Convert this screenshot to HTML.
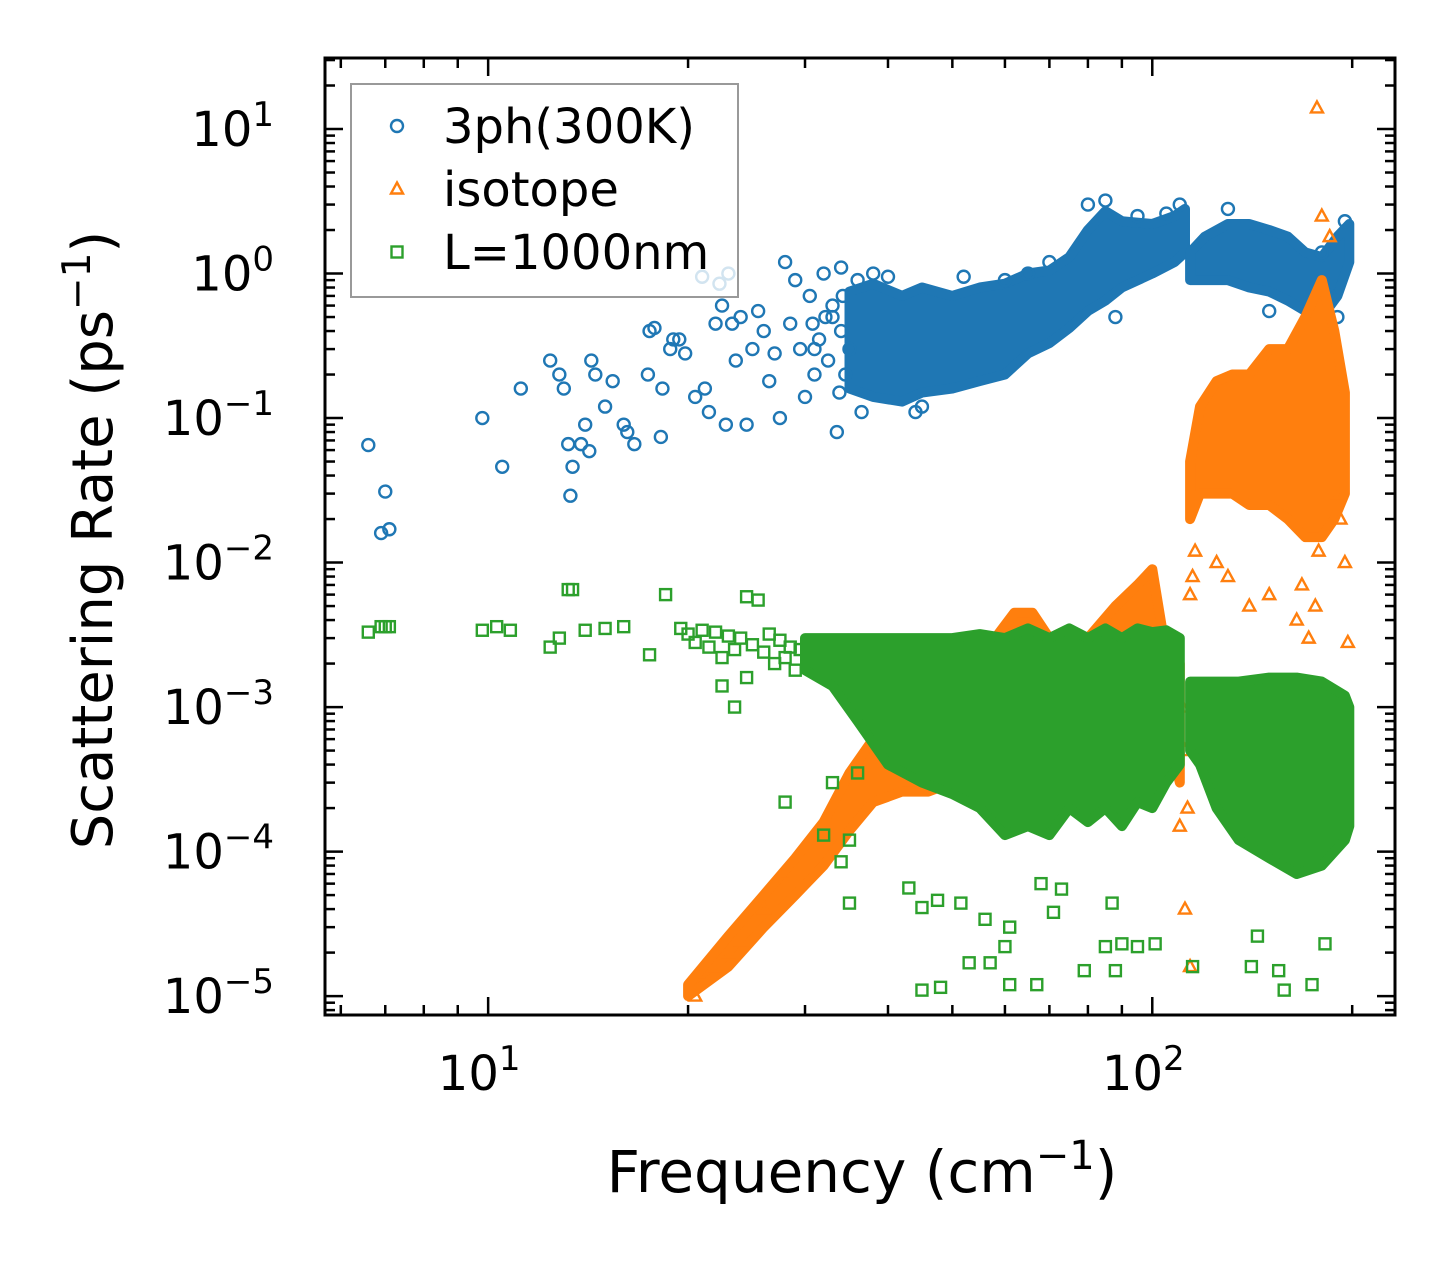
<!DOCTYPE html>
<html><head><meta charset="utf-8"><style>
html,body{margin:0;padding:0;background:#fff;}
svg{display:block;font-family:"DejaVu Sans","Liberation Sans",sans-serif;}
</style></head><body>
<svg id="chart" width="1455" height="1265" viewBox="0 0 1455 1265" xmlns="http://www.w3.org/2000/svg">
<rect width="1455" height="1265" fill="#fff"/>
<defs><clipPath id="clip"><rect x="325" y="58" width="1070" height="957"/></clipPath></defs>
<g id="plot" clip-path="url(#clip)"></g>
<g id="axes"></g>
<g id="legend"></g>
</svg>
<script>
// ---- data ----
const blueBand = [[35,0.16,0.75],[38,0.14,0.85],[42,0.13,0.7],[45,0.15,0.8],[50,0.16,0.7],[55,0.18,0.8],[60,0.2,0.85],[65,0.28,1.0],[70,0.33,1.05],[75,0.42,1.3],[80,0.55,2.0],[85,0.65,2.7],[90,0.8,2.3],[100,1.0,2.2],[108,1.2,2.5],[112,1.4,2.8]];
const blueBand2 = [[114,0.9,1.4],[120,0.9,1.8],[130,0.9,2.2],[140,0.8,2.2],[150,0.75,2.0],[160,0.65,1.8],[170,0.55,1.4],[180,0.5,1.3],[190,0.7,1.8],[198,1.2,2.2]];
const blueFreq = [6.6,6.9,7.0,7.1,9.8,10.5,11.2,12.4,12.8,13.0,13.2,13.3,13.4,13.8,14.0,14.3,14.5,14.2,15.0,15.4,16.0,16.2,16.6,17.4,17.5,17.8,18.2,18.3,18.8,19.0,19.4,19.8,20.5,21,21.2,21.5,22,22.3,22.5,22.8,23,23.3,23.6,24,24.5,25,25.5,26,26.5,27,27.5,28,28.5,29,29.5,30,30.5,31,32,33,33.5,34,35,36,36.5,38,40,45,44,52,60,65,70,80,85,88,95,105,110,130,150,170,175,180,185,195,190,31.5,32.5,33,34,34.5,33.8,32.2,31,30.8,34.2];
const blueRate = [0.065,0.016,0.031,0.017,0.1,0.046,0.16,0.25,0.2,0.16,0.066,0.029,0.046,0.066,0.09,0.25,0.2,0.059,0.12,0.18,0.09,0.08,0.066,0.2,0.4,0.42,0.074,0.16,0.3,0.35,0.35,0.28,0.14,0.95,0.16,0.11,0.45,0.85,0.6,0.09,1.0,0.45,0.25,0.5,0.09,0.3,0.55,0.4,0.18,0.28,0.1,1.2,0.45,0.9,0.3,0.14,0.7,0.2,1.0,0.5,0.08,1.1,0.3,0.9,0.11,1.0,0.95,0.12,0.11,0.95,0.9,1.0,1.2,3.0,3.2,0.5,2.5,2.6,3.0,2.8,0.55,0.45,0.35,1.4,0.7,2.3,0.5,0.35,0.25,0.6,0.4,0.2,0.15,0.5,0.3,0.45,0.7];
const orangeBand = [[20,1.0e-5,1.2e-5],[23,1.6e-5,2.6e-5],[26,3e-5,5e-5],[29,5e-5,9e-5],[32,8e-5,1.6e-4],[35,1.4e-4,3.5e-4],[38,2.2e-4,6e-4],[42,2.6e-4,9e-4],[46,2.6e-4,1.2e-3],[50,3e-4,1.5e-3],[55,3.5e-4,2e-3],[58,4e-4,3e-3],[62,5e-4,4.5e-3],[66,5e-4,4.5e-3],[70,6e-4,3e-3],[80,5e-4,3e-3],[88,1e-3,5e-3],[95,1.5e-3,7e-3],[100,1.5e-3,9e-3],[104,1e-3,3e-3],[110,3e-4,2e-3]];
const orangeBand2 = [[114,2e-2,5e-2],[118,3e-2,0.12],[125,3e-2,0.18],[132,3e-2,0.2],[140,2.5e-2,0.2],[150,2.5e-2,0.3],[160,2e-2,0.3],[170,1.5e-2,0.5],[180,1.5e-2,0.9],[188,2e-2,0.4],[195,3e-2,0.15]];
const orangeFreq = [20.5,21,22,23,24,26,28,111,112,113,114,115,116,125,130,140,150,165,168,172,176,178,180,185,190,192,195,197,177,114,112,110];
const orangeRate = [1.0e-5,1.4e-5,1.6e-5,2e-5,2.4e-5,4e-5,7e-5,1e-3,5e-4,2e-4,6e-3,8e-3,1.2e-2,1e-2,8e-3,5e-3,6e-3,4e-3,7e-3,3e-3,5e-3,1.2e-2,2.5,1.8,0.03,0.02,0.01,2.8e-3,14,1.6e-5,4e-5,1.5e-4];
const greenBand = [[30,1.8e-3,3e-3],[33,1.4e-3,3e-3],[36,8e-4,3e-3],[40,4e-4,3e-3],[45,3e-4,3e-3],[50,2.5e-4,3e-3],[55,2e-4,3.2e-3],[60,1.3e-4,3e-3],[65,1.5e-4,3.5e-3],[70,1.3e-4,3e-3],[75,2e-4,3.5e-3],[80,1.6e-4,3e-3],[85,2e-4,3.5e-3],[90,1.5e-4,3e-3],[95,2.2e-4,3.5e-3],[100,2e-4,3.3e-3],[105,3e-4,3.4e-3],[110,4e-4,3e-3]];
const greenBand2 = [[114,5e-4,1.5e-3],[118,4e-4,1.5e-3],[125,2e-4,1.5e-3],[135,1.2e-4,1.5e-3],[150,9e-5,1.6e-3],[165,7e-5,1.6e-3],[180,8e-5,1.5e-3],[195,1.2e-4,1.2e-3],[198,1.5e-4,1.0e-3]];
const greenFreq = [6.6,6.9,7.0,7.1,9.8,10.3,10.8,12.4,12.8,13.2,13.4,14,15,16,17.5,18.5,19.5,20,20.5,21,21.5,22,22.5,23,23.5,24,24.5,25,25.5,26,26.5,27,27.5,28,28.5,29,29.5,22.5,23.5,24.5,28,35,45,53,61,60,79,85,90,45,47.5,51.5,56,61,71,87,43,68,73,158,174,141,155,115,182,144,88,101,95,57,67,48,32,33,34,35,36];
const greenRate = [3.3e-3,3.6e-3,3.6e-3,3.6e-3,3.4e-3,3.6e-3,3.4e-3,2.6e-3,3e-3,6.5e-3,6.5e-3,3.4e-3,3.5e-3,3.6e-3,2.3e-3,6e-3,3.5e-3,3.2e-3,2.8e-3,3.4e-3,2.6e-3,3.3e-3,2.2e-3,3.1e-3,2.5e-3,3.0e-3,5.8e-3,2.7e-3,5.5e-3,2.4e-3,3.2e-3,2.0e-3,2.9e-3,2.2e-3,2.6e-3,1.8e-3,2.5e-3,1.4e-3,1.0e-3,1.6e-3,2.2e-4,4.4e-5,1.1e-5,1.7e-5,1.2e-5,2.2e-5,1.5e-5,2.2e-5,2.3e-5,4.1e-5,4.6e-5,4.4e-5,3.4e-5,3e-5,3.8e-5,4.4e-5,5.6e-5,6e-5,5.5e-5,1.1e-5,1.2e-5,1.6e-5,1.5e-5,1.6e-5,2.3e-5,2.6e-5,1.5e-5,2.3e-5,2.2e-5,1.7e-5,1.2e-5,1.15e-5,1.3e-4,3e-4,8.5e-5,1.2e-4,3.5e-4];
const xTickVals = [10,100];
const xTickText = ["1","2"];
const yTickVals = [10,1,0.1,0.01,0.001,0.0001,0.00001];
const yTickText = ["1","0","\u22121","\u22122","\u22123","\u22124","\u22125"];

// ---- axis functions ----
const X0=325,X1=1395,Y0=58,Y1=1015;
const xmin=Math.log10(5.68),xmax=Math.log10(232),ymin=Math.log10(7.4e-6),ymax=Math.log10(31);
const sx=v=>X0+(Math.log10(v)-xmin)/(xmax-xmin)*(X1-X0);
const sy=v=>Y1-(Math.log10(v)-ymin)/(ymax-ymin)*(Y1-Y0);
const NS="http://www.w3.org/2000/svg";
const plot=document.getElementById('plot'),axes=document.getElementById('axes'),legend=document.getElementById('legend');
function mk(tag,attrs,parent){const e=document.createElementNS(NS,tag);for(const k in attrs)e.setAttribute(k,attrs[k]);parent.appendChild(e);return e;}
const C={b:'#1f77b4',o:'#ff7f0e',g:'#2ca02c'};

function band(arr,color,name){
  let d='M'+arr.map(r=>sx(r[0]).toFixed(1)+','+sy(r[2]).toFixed(1)).join('L');
  d+='L'+arr.slice().reverse().map(r=>sx(r[0]).toFixed(1)+','+sy(r[1]).toFixed(1)).join('L')+'Z';
  const p=mk('path',{d:d,fill:color,stroke:color,'stroke-width':10,'stroke-linejoin':'round'},plot);
  
  
}
function marker(type,x,y,color,parent){
  let e;
  if(type==='c') e=mk('circle',{cx:x,cy:y,r:6,fill:'none',stroke:color,'stroke-width':2.4},parent);
  else if(type==='t') e=mk('path',{d:`M${x},${y-6.5}L${x+6},${y+4.5}L${x-6},${y+4.5}Z`,fill:'none',stroke:color,'stroke-width':2.4},parent);
  else e=mk('rect',{x:x-5.5,y:y-5.5,width:11,height:11,fill:'none',stroke:color,'stroke-width':2.4},parent);
  return e;
}
function pts(fr,rt,type,color,name){
  for(let i=0;i<fr.length;i++){
    const m=marker(type,sx(fr[i]),sy(rt[i]),color,plot);
    
    
  }
}
band(blueBand,C.b,'3ph-dense-band');band(blueBand2,C.b,'3ph-dense-band-high');
pts(blueFreq,blueRate,'c',C.b,'3ph-point');
band(orangeBand,C.o,'isotope-dense-band');band(orangeBand2,C.o,'isotope-dense-band-high');
pts(orangeFreq,orangeRate,'t',C.o,'isotope-point');
band(greenBand,C.g,'boundary-dense-band');band(greenBand2,C.g,'boundary-dense-band-high');
pts(greenFreq,greenRate,'s',C.g,'boundary-point');

// ---- axes ----
const fr=mk('rect',{x:X0,y:Y0,width:X1-X0,height:Y1-Y0,fill:'none',stroke:'#000','stroke-width':3},axes);


function tick(x1,y1,x2,y2){mk('line',{x1,y1,x2,y2,stroke:'#000','stroke-width':2.5},axes);}
for(let dec=0;dec<=2;dec++){for(let k=1;k<10;k++){const v=k*Math.pow(10,dec);const x=sx(v);if(x<X0||x>X1)continue;const L=k===1?18:10;tick(x,Y1,x,Y1-L);tick(x,Y0,x,Y0+L);}}
for(let dec=-6;dec<=1;dec++){for(let k=1;k<10;k++){const v=k*Math.pow(10,dec);const y=sy(v);if(y<Y0||y>Y1)continue;const L=k===1?18:10;tick(X0,y,X0+L,y);tick(X1,y,X1-L,y);}}
xTickVals.forEach((v,i)=>{const t=mk('text',{x:sx(v)-9,y:1090,'font-size':48,'text-anchor':'middle'},axes);
 
 
 t.textContent='10';const s=mk('tspan',{dy:-20,'font-size':34},t);s.textContent=xTickText[i];});
yTickVals.forEach((v,i)=>{const t=mk('text',{x:274,y:sy(v)+17,'font-size':48,'text-anchor':'end'},axes);
 
 
 t.textContent='10';const s=mk('tspan',{dy:-20,'font-size':34},t);s.textContent=yTickText[i];});
const xt=mk('text',{x:862,y:1192,'font-size':58,'text-anchor':'middle'},axes);


xt.textContent='Frequency (cm';let a=mk('tspan',{dy:-23,'font-size':40},xt);a.textContent='\u22121';let b=mk('tspan',{dy:23},xt);b.textContent=')';
const yt=mk('text',{x:0,y:0,'font-size':56,'text-anchor':'middle',transform:'translate(112,540) rotate(-90)'},axes);


yt.textContent='Scattering Rate (ps';a=mk('tspan',{dy:-22,'font-size':39},yt);a.textContent='\u22121';b=mk('tspan',{dy:22},yt);b.textContent=')';

// ---- legend ----
const lb=mk('rect',{x:351,y:84,width:387,height:213,fill:'#fff','fill-opacity':0.8,stroke:'#999','stroke-width':2},legend);


const labels=['3ph(300K)','isotope','L=1000nm'],types=['c','t','s'],cols=[C.b,C.o,C.g],ys=[126,189,252];
labels.forEach((l,i)=>{
  const g=mk('g',{},legend);
  
  
  marker(types[i],397,ys[i],cols[i],g);
  const t=mk('text',{x:443,y:ys[i]+17,'font-size':48},g);t.textContent=l;
});
</script>
</body></html>
